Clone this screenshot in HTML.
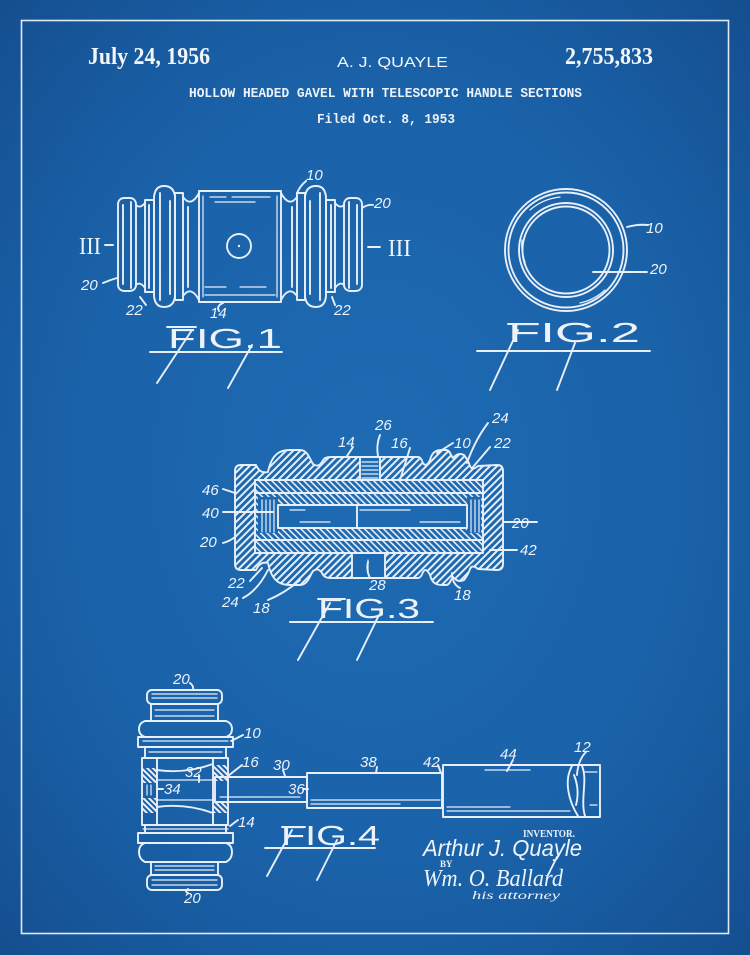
<!DOCTYPE html>
<html><head><meta charset="utf-8"><style>
html,body{margin:0;padding:0;width:750px;height:955px;overflow:hidden;background:#1a62a9}
svg{display:block}
.ln{fill:none;stroke:#e8eff8;stroke-width:1.9;stroke-linecap:round;stroke-linejoin:round}
.th{fill:none;stroke:#e8eff8;stroke-width:1.2;stroke-linecap:round}
.lb{font-family:"Liberation Sans",sans-serif;font-style:italic;font-size:15px;fill:#eef3fa}
.fg{font-family:"Liberation Sans",sans-serif;font-size:28px;fill:#eef3fa}
</style></head><body>
<svg width="750" height="955" viewBox="0 0 750 955" xmlns="http://www.w3.org/2000/svg">
<defs>
<radialGradient id="bg" cx="50%" cy="50%" r="72%">
 <stop offset="0" stop-color="#1e6cb4"/>
 <stop offset="0.6" stop-color="#1a61a8"/>
 <stop offset="1" stop-color="#144e8e"/>
</radialGradient>
<pattern id="h1" width="5" height="5" patternUnits="userSpaceOnUse" patternTransform="rotate(45)"><rect x="0" y="0" width="2" height="5" fill="#e4edf7"/></pattern>
<pattern id="h2" width="4.5" height="4.5" patternUnits="userSpaceOnUse" patternTransform="rotate(-45)"><rect x="0" y="0" width="1.6" height="4.5" fill="#e4edf7"/></pattern>
<pattern id="h3" width="4" height="4" patternUnits="userSpaceOnUse" patternTransform="rotate(-45)"><rect x="0" y="0" width="2" height="4" fill="#e8eff8"/></pattern>
<mask id="m3">
 <path fill="white" d="M235,471 Q235,465 241,465 L256,465 Q260,474 268,472 C272,452 282,450 290,450 L300,450 C308,450 310,460 313,464 Q318,468 322,462 Q324,457 330,457 L418,457 Q421,457 423,463 Q426,468 430,460 C432,452 436,450 442,450 L446,450 C450,450 451,456 453,458 Q458,452 464,455 Q468,460 470,466 Q472,471 478,466 L497,465 Q503,465 503,471 L503,564 Q503,570 497,570 L478,569 Q472,564 470,569 Q468,575 464,580 Q458,583 453,577 C451,579 450,585 446,585 L442,585 C436,585 432,583 430,575 Q426,567 423,572 Q421,578 418,578 L330,578 Q324,578 322,573 Q318,567 313,571 C310,575 308,585 300,585 L290,585 C282,585 272,583 268,563 Q260,561 256,570 L241,570 Q235,570 235,564 Z"/>
 <rect x="255" y="480" width="228" height="73" fill="black"/>
 <rect x="360" y="452" width="20" height="30" fill="black"/>
 <rect x="352" y="551" width="33" height="32" fill="black"/>
</mask>
<mask id="m3b">
 <rect x="255" y="480" width="228" height="73" fill="white"/>
 <rect x="278" y="505" width="189" height="23" fill="black"/>
 <rect x="258" y="497" width="20" height="36" fill="black"/>
 <rect x="467" y="497" width="14" height="36" fill="black"/>
</mask>
<g id="f1half" class="ln">
 <rect x="118" y="198" width="18" height="93" rx="6"/>
 <line x1="123" y1="205" x2="123" y2="284"/>
 <line x1="131" y1="202" x2="131" y2="288"/>
 <path d="M136,205 Q140,209 145,203 M136,285 Q140,281 145,288"/>
 <rect x="145" y="200" width="9" height="92"/>
 <line x1="149" y1="205" x2="149" y2="288"/>
 <path d="M154,197 Q155,186 164,186 Q174,186 175,197 L175,296 Q174,307 164,307 Q155,307 154,296 Z"/>
 <line x1="160" y1="193" x2="160" y2="300"/>
 <line x1="170" y1="201" x2="170" y2="294"/>
 <rect x="175" y="193" width="8" height="107"/>
 <path d="M183,197 Q191,208 199,193 M183,296 Q191,285 199,300"/>
 <line x1="188" y1="207" x2="188" y2="287"/>
</g>
</defs>
<rect x="0" y="0" width="750" height="955" fill="url(#bg)"/>
<rect x="21.5" y="20.5" width="707" height="913" fill="none" stroke="#dfe9f5" stroke-width="1.6"/>

<!-- Header -->
<text x="88" y="64" font-family="Liberation Serif,serif" font-weight="bold" font-size="24" fill="#f2f6fb" textLength="122" lengthAdjust="spacingAndGlyphs">July 24, 1956</text>
<text x="337" y="67" font-family="Liberation Sans,sans-serif" font-size="15" fill="#f2f6fb" textLength="111" lengthAdjust="spacingAndGlyphs">A. J. QUAYLE</text>
<text x="565" y="64" font-family="Liberation Serif,serif" font-weight="bold" font-size="24" fill="#f2f6fb" textLength="88" lengthAdjust="spacingAndGlyphs">2,755,833</text>
<text x="189" y="97" font-family="Liberation Mono,monospace" font-weight="bold" font-size="14" fill="#eef3fa" textLength="393" lengthAdjust="spacingAndGlyphs">HOLLOW HEADED GAVEL WITH TELESCOPIC HANDLE SECTIONS</text>
<text x="317" y="123" font-family="Liberation Mono,monospace" font-weight="bold" font-size="14" fill="#eef3fa" textLength="138" lengthAdjust="spacingAndGlyphs">Filed Oct. 8, 1953</text>

<!-- FIG 1 -->
<use href="#f1half"/>
<use href="#f1half" transform="translate(480,0) scale(-1,1)"/>
<g class="ln">
 <rect x="199" y="191" width="82" height="111"/>
 <circle cx="239" cy="246" r="12"/>
 <line x1="105" y1="245" x2="113" y2="245"/>
 <line x1="368" y1="247" x2="380" y2="247"/>
 <path d="M306,181 Q300,186 297,193 M362,208 Q368,204 373,205 M103,283 Q110,280 117,278 M140,297 L146,305 M223,303 Q216,306 219,311 M332,297 L335,305"/>
</g>
<g class="th">
 <path d="M210,197 H226 M232,197 H270 M215,202 H255 M205,287 H226 M240,287 H266 M205,295 H275 M203,196 V297 M277,196 V297"/>
</g>
<circle cx="239" cy="246" r="1.2" fill="#e8eff8"/>
<text x="79" y="254" font-family="Liberation Serif,serif" font-size="24" fill="#eef3fa" textLength="22" lengthAdjust="spacingAndGlyphs">III</text>
<text x="388" y="256" font-family="Liberation Serif,serif" font-size="24" fill="#eef3fa" textLength="23" lengthAdjust="spacingAndGlyphs">III</text>
<text class="lb" x="306" y="180">10</text>
<text class="lb" x="374" y="208">20</text>
<text class="lb" x="81" y="290">20</text>
<text class="lb" x="126" y="315">22</text>
<text class="lb" x="210" y="318">14</text>
<text class="lb" x="334" y="315">22</text>
<!-- Fig.1 caption -->
<text class="fg" x="168" y="348" textLength="114" lengthAdjust="spacingAndGlyphs">FIG.1</text>
<g class="ln"><line x1="150" y1="352" x2="282" y2="352"/><line x1="167" y1="327" x2="196" y2="327"/><line x1="192" y1="330" x2="157" y2="383"/><line x1="252" y1="345" x2="228" y2="388"/></g>

<!-- FIG 2 -->
<g class="ln">
 <circle cx="566" cy="250" r="61"/>
 <circle cx="566" cy="250" r="57.5"/>
 <circle cx="566" cy="250" r="47"/>
 <circle cx="566" cy="250" r="43.5"/>
 <path d="M627,227 Q638,224 648,225 M593,272 L647,272"/>
</g>
<g class="th"><path d="M530,210 A54,54 0 0 1 560,197 M605,290 A54,54 0 0 1 580,303 M525,262 A45,45 0 0 1 522,240"/></g>
<text class="lb" x="646" y="233">10</text>
<text class="lb" x="650" y="274">20</text>
<text class="fg" x="508" y="342" textLength="132" lengthAdjust="spacingAndGlyphs">FIG.2</text>
<g class="ln"><line x1="477" y1="351" x2="650" y2="351"/><line x1="508" y1="324" x2="538" y2="324"/><line x1="518" y1="330" x2="490" y2="390"/><line x1="575" y1="343" x2="557" y2="390"/></g>

<!-- FIG 3 -->
<rect x="230" y="445" width="280" height="145" fill="url(#h1)" mask="url(#m3)"/>
<rect x="250" y="475" width="240" height="85" fill="url(#h2)" mask="url(#m3b)"/>
<g class="ln">
 <path d="M235,471 Q235,465 241,465 L256,465 Q260,474 268,472 C272,452 282,450 290,450 L300,450 C308,450 310,460 313,464 Q318,468 322,462 Q324,457 330,457 L418,457 Q421,457 423,463 Q426,468 430,460 C432,452 436,450 442,450 L446,450 C450,450 451,456 453,458 Q458,452 464,455 Q468,460 470,466 Q472,471 478,466 L497,465 Q503,465 503,471 L503,564 Q503,570 497,570 L478,569 Q472,564 470,569 Q468,575 464,580 Q458,583 453,577 C451,579 450,585 446,585 L442,585 C436,585 432,583 430,575 Q426,567 423,572 Q421,578 418,578 L330,578 Q324,578 322,573 Q318,567 313,571 C310,575 308,585 300,585 L290,585 C282,585 272,583 268,563 Q260,561 256,570 L241,570 Q235,570 235,564 Z"/>
 <rect x="255" y="480" width="228" height="73"/>
 <line x1="255" y1="493" x2="483" y2="493"/>
 <line x1="255" y1="540" x2="483" y2="540"/>
 <rect x="278" y="505" width="189" height="23"/>
 <line x1="357" y1="505" x2="357" y2="528"/>
 <path d="M360,457 V480 M380,457 V480 M352,553 V578 M385,553 V578"/>
 <path d="M380,435 Q376,445 378,456 M353,447 L347,456 M410,448 L400,480 M488,423 Q475,440 467,463 M453,443 L437,453 M490,447 L473,467 M223,489 L235,493 M223,512 L273,512 M223,543 Q230,541 235,537 M537,522 L503,522 M517,550 L490,550 M250,581 L262,568 M243,598 Q258,590 268,570 M268,600 Q285,593 300,580 M370,578 Q366,570 368,562 M460,588 Q452,584 452,573"/>
</g>
<g class="th"><path d="M362,462 H378 M362,466 H378 M362,470 H378 M362,474 H378 M362,478 H378 M262,500 V532 M266,500 V532 M270,500 V532 M274,500 V532 M471,500 V532 M475,500 V532 M479,500 V532 M368,560 V574 M290,510 H305 M360,510 H410 M300,522 H330 M420,522 H460"/></g>
<text class="lb" x="375" y="430">26</text>
<text class="lb" x="338" y="447">14</text>
<text class="lb" x="391" y="448">16</text>
<text class="lb" x="492" y="423">24</text>
<text class="lb" x="454" y="448">10</text>
<text class="lb" x="494" y="448">22</text>
<text class="lb" x="202" y="495">46</text>
<text class="lb" x="202" y="518">40</text>
<text class="lb" x="200" y="547">20</text>
<text class="lb" x="512" y="528">20</text>
<text class="lb" x="520" y="555">42</text>
<text class="lb" x="228" y="588">22</text>
<text class="lb" x="222" y="607">24</text>
<text class="lb" x="253" y="613">18</text>
<text class="lb" x="369" y="590">28</text>
<text class="lb" x="454" y="600">18</text>
<text class="fg" x="318" y="618" textLength="102" lengthAdjust="spacingAndGlyphs">FIG.3</text>
<g class="ln"><line x1="290" y1="622" x2="433" y2="622"/><line x1="318" y1="599" x2="345" y2="599"/><line x1="330" y1="603" x2="298" y2="660"/><line x1="378" y1="617" x2="357" y2="660"/></g>

<!-- FIG 4 -->
<rect x="142" y="768" width="15" height="15" fill="url(#h3)"/>
<rect x="142" y="798" width="15" height="15" fill="url(#h3)"/>
<rect x="213" y="765" width="15" height="16" fill="url(#h3)"/>
<rect x="213" y="801" width="15" height="12" fill="url(#h3)"/>
<g class="ln">
 <rect x="147" y="690" width="75" height="14" rx="5"/>
 <path d="M151,704 V721 M218,704 V721"/>
 <path d="M145,721 L226,721 Q232,723 232,729 Q232,735 226,737 L145,737 Q139,735 139,729 Q139,723 145,721 Z"/>
 <rect x="138" y="737" width="95" height="10"/>
 <path d="M145,747 V758 M226,747 V758"/>
 <rect x="142" y="758" width="86" height="67"/>
 <path d="M145,825 V833 M226,825 V833"/>
 <rect x="138" y="833" width="95" height="10"/>
 <path d="M145,843 L226,843 Q232,845 232,852 Q232,859 226,862 L145,862 Q139,859 139,852 Q139,845 145,843 Z"/>
 <path d="M151,862 V875 M218,862 V875"/>
 <rect x="147" y="875" width="75" height="15" rx="5"/>
 <path d="M157,758 V825 M213,758 V825"/>
 <path d="M157,770 Q185,774 213,764 M157,807 Q185,803 213,813"/>
 <rect x="215" y="777" width="92" height="25"/>
 <rect x="307" y="773" width="135" height="35"/>
 <rect x="443" y="765" width="157" height="52"/>
 <path d="M572,766 C564,780 568,800 578,816 M582,766 C588,780 580,800 585,816 M574,775 Q580,790 576,805"/>
 <path d="M190,683 Q194,686 193,690 M243,735 L231,741 M242,765 L228,776 M283,770 L285,776 M199,775 L199,782 M163,789 L157,789 M303,789 L308,789 M238,820 L230,826 M188,893 Q184,891 188,889 M377,767 L376,773 M438,765 L441,773 M513,760 L507,771 M586,752 Q578,760 577,775"/>
</g>
<g class="th"><path d="M152,694 H217 M152,698 H217 M155,710 H214 M155,716 H214 M143,741 H228 M149,752 H222 M143,829 H228 M155,866 H214 M155,870 H214 M152,880 H217 M152,885 H217 M157,780 H215 M157,800 H215 M147,785 V795 M151,785 V795 M220,797 H300 M311,800 H440 M311,804 H400 M447,811 H570 M447,807 H510 M485,770 H530 M590,805 H597 M585,772 H597"/></g>
<text class="lb" x="173" y="684">20</text>
<text class="lb" x="244" y="738">10</text>
<text class="lb" x="242" y="767">16</text>
<text class="lb" x="273" y="770">30</text>
<text class="lb" x="185" y="777">32</text>
<text class="lb" x="164" y="794">34</text>
<text class="lb" x="288" y="794">36</text>
<text class="lb" x="238" y="827">14</text>
<text class="lb" x="184" y="903">20</text>
<text class="lb" x="360" y="767">38</text>
<text class="lb" x="423" y="767">42</text>
<text class="lb" x="500" y="759">44</text>
<text class="lb" x="574" y="752">12</text>
<text class="fg" x="281" y="845" textLength="99" lengthAdjust="spacingAndGlyphs">FIG.4</text>
<g class="ln"><line x1="265" y1="848" x2="375" y2="848"/><line x1="282" y1="827" x2="305" y2="827"/><line x1="292" y1="830" x2="267" y2="876"/><line x1="337" y1="840" x2="317" y2="880"/></g>

<!-- Signature -->
<text x="523" y="837" font-family="Liberation Serif,serif" font-weight="bold" font-size="10" fill="#eef3fa" textLength="52" lengthAdjust="spacingAndGlyphs">INVENTOR.</text>
<text x="423" y="856" font-family="Liberation Sans,sans-serif" font-style="italic" font-size="23" fill="#eef3fa" textLength="159" lengthAdjust="spacingAndGlyphs">Arthur J. Quayle</text>
<text x="440" y="867" font-family="Liberation Serif,serif" font-weight="bold" font-size="9" fill="#eef3fa">BY</text>
<text x="423" y="886" font-family="Liberation Serif,serif" font-style="italic" font-size="24" fill="#eef3fa" textLength="140" lengthAdjust="spacingAndGlyphs">Wm. O. Ballard</text>
<text x="472" y="899" font-family="Liberation Serif,serif" font-style="italic" font-size="12" fill="#eef3fa" textLength="88" lengthAdjust="spacingAndGlyphs">his attorney</text>
<line x1="557" y1="857" x2="548" y2="875" class="ln"/>
</svg>
</body></html>
